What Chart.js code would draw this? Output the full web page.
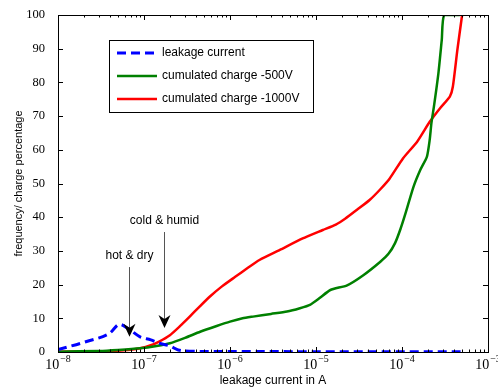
<!DOCTYPE html>
<html>
<head>
<meta charset="utf-8">
<script src="https://cdn.jsdelivr.net/npm/chart.js@4/dist/chart.umd.min.js"></script>
<style>
  body { margin: 0; background: #fff; }
  canvas { display: block; }
</style>
</head>
<body>
<canvas id="grafico" width="498" height="388"></canvas>
<script>
// leakage current distribution (dashed blue)
const leakX = [1e-8, 2.2e-8, 4e-8, 5.2e-8, 6.5e-8, 9e-8, 1.2e-7, 1.5e-7, 2e-7, 2.5e-7, 4e-7, 1e-6, 1e-5, 1e-4, 4.8e-4];
const leakY = [0.7, 3.2, 5.6, 8.2, 7.0, 4.5, 3.6, 2.6, 1.8, 0.6, 0.2, 0.15, 0.1, 0.1, 0.1];

// cumulated charge -500V (green)
const charge500X = [1e-8, 3e-8, 5e-8, 9e-8, 1.4e-7, 2e-7, 3e-7, 4.5e-7, 7e-7, 1e-6, 1.4e-6, 1.85e-6, 3e-6, 4.6e-6, 6.5e-6, 8.5e-6, 1.1e-5, 1.47e-5, 2.3e-5, 3.55e-5, 5.6e-5, 7e-5, 8.3e-5, 9.6e-5, 1.1e-4, 1.36e-4, 1.63e-4, 1.95e-4, 2.1e-4, 2.2e-4, 2.35e-4, 2.65e-4, 2.9e-4, 3.1e-4, 4.7e-4];
const charge500Y = [0.1, 0.3, 0.6, 1.1, 1.8, 2.6, 4.2, 6.0, 7.7, 9.0, 10.0, 10.5, 11.3, 12.0, 13.0, 14.0, 16.0, 18.4, 19.8, 22.8, 26.8, 29.2, 32.3, 36.5, 41.2, 49, 54, 58, 63, 68, 72.8, 82.7, 92.6, 100, 100];

// cumulated charge -1000V (red)
const charge1000X = [1e-8, 3e-8, 5e-8, 7e-8, 9e-8, 1.2e-7, 1.5e-7, 2e-7, 2.6e-7, 3.4e-7, 4.4e-7, 5.8e-7, 8e-7, 1.15e-6, 1.6e-6, 2.2e-6, 3.8e-6, 7e-6, 1.2e-5, 1.7e-5, 2.2e-5, 3e-5, 4.2e-5, 5.6e-5, 7.2e-5, 1.03e-4, 1.5e-4, 2.1e-4, 2.8e-4, 3.6e-4, 3.9e-4, 4.4e-4, 5e-4];
const charge1000Y = [0.1, 0.2, 0.4, 0.7, 1.1, 2.0, 3.1, 5.0, 7.6, 10.5, 13.4, 16.4, 19.4, 22.3, 24.9, 27.3, 30.3, 33.7, 36.2, 37.8, 39.6, 42.2, 45.1, 48.3, 51.5, 57.5, 62.4, 68.3, 72.5, 75.8, 78.7, 89.6, 100];

const seriesLabels = ['leakage current', 'cumulated charge -500V', 'cumulated charge -1000V'];

const xTicks = [1e-8, 1e-7, 1e-6, 1e-5, 1e-4, 1e-3];
const yTicks = [0, 10, 20, 30, 40, 50, 60, 70, 80, 90, 100];

// annotations: text, arrow x, text y, arrow start y, arrow tip y
const noteTexts = ['hot & dry', 'cold & humid'];
const noteX = [6.65e-8, 1.7e-7];
const noteTextY = [28.6, 39.0];
const noteFromY = [25.2, 35.6];
const noteToY = [4.5, 7.1];

const SERIF = '"Liberation Serif", "DejaVu Serif", serif';
const SANS = '"Liberation Sans", Arial, sans-serif';

function toPoints(xs, ys) {
    return xs.map((x, i) => ({ x: x, y: ys[i] }));
}

// moldura, marcas para dentro e rótulos 10^n
const frameTicks = {
    id: 'frameTicks',
    afterDatasetsDraw(chart) {
        const { ctx, chartArea: a, scales: { x, y } } = chart;
        ctx.save();
        ctx.strokeStyle = '#000';
        ctx.lineWidth = 1;
        ctx.beginPath();
        for (let d = 0; d < xTicks.length; d++) {
            for (let m = 1; m <= 9; m++) {
                const v = xTicks[d] * m;
                if (v > xTicks[xTicks.length - 1] * 1.0001) break;
                const px = Math.round(x.getPixelForValue(v)) + 0.5;
                const len = m === 1 ? 5 : 2.5;
                ctx.moveTo(px, a.bottom); ctx.lineTo(px, a.bottom - len);
                ctx.moveTo(px, a.top); ctx.lineTo(px, a.top + len);
            }
        }
        for (const v of yTicks) {
            const py = Math.round(y.getPixelForValue(v)) + 0.5;
            ctx.moveTo(a.left, py); ctx.lineTo(a.left + 5, py);
            ctx.moveTo(a.right, py); ctx.lineTo(a.right - 5, py);
        }
        ctx.stroke();
        ctx.strokeRect(Math.round(a.left) + 0.5, Math.round(a.top) + 0.5, Math.round(a.width), Math.round(a.height));

        // rótulos do eixo x com expoente
        ctx.fillStyle = '#000';
        ctx.textBaseline = 'middle';
        ctx.textAlign = 'left';
        for (const v of xTicks) {
            const px = x.getPixelForValue(v);
            const expo = '−' + Math.abs(Math.round(Math.log10(v)));
            ctx.font = '14px ' + SERIF;
            const wb = ctx.measureText('10').width;
            ctx.font = '10px ' + SERIF;
            const we = ctx.measureText(expo).width;
            const x0 = px - (wb + we + 1) / 2;
            ctx.font = '14px ' + SERIF;
            ctx.fillText('10', x0, a.bottom + 13);
            ctx.font = '10px ' + SERIF;
            ctx.fillText(expo, x0 + wb + 1, a.bottom + 7);
        }
        ctx.restore();
    }
};

// setas com texto
const arrowNotes = {
    id: 'arrowNotes',
    afterDatasetsDraw(chart) {
        const { ctx, scales: { x, y } } = chart;
        ctx.save();
        ctx.font = '12px ' + SANS;
        ctx.textAlign = 'center';
        ctx.textBaseline = 'middle';
        for (let i = 0; i < noteTexts.length; i++) {
            const px = Math.round(x.getPixelForValue(noteX[i])) + 0.5;
            const ty = y.getPixelForValue(noteTextY[i]);
            const y0 = y.getPixelForValue(noteFromY[i]);
            const y1 = y.getPixelForValue(noteToY[i]);
            ctx.fillStyle = '#000';
            ctx.fillText(noteTexts[i], px, ty);
            ctx.strokeStyle = '#555';
            ctx.lineWidth = 1;
            ctx.beginPath();
            ctx.moveTo(px, y0);
            ctx.lineTo(px, y1 - 8);
            ctx.stroke();
            ctx.fillStyle = '#000';
            ctx.beginPath();
            ctx.moveTo(px, y1);
            ctx.lineTo(px - 6, y1 - 13);
            ctx.lineTo(px, y1 - 9);
            ctx.lineTo(px + 6, y1 - 13);
            ctx.closePath();
            ctx.fill();
        }
        ctx.restore();
    }
};

// legenda dentro do gráfico com moldura
const boxLegend = {
    id: 'boxLegend',
    afterDatasetsDraw(chart) {
        const { ctx, chartArea: a } = chart;
        const left = a.left + 51, top = a.top + 25, w = 204, h = 72;
        ctx.save();
        ctx.fillStyle = '#fff';
        ctx.fillRect(left, top, w, h);
        ctx.strokeStyle = '#000';
        ctx.lineWidth = 1;
        ctx.strokeRect(left + 0.5, top + 0.5, w, h);
        ctx.font = '12px ' + SANS;
        ctx.textBaseline = 'middle';
        chart.data.datasets.forEach((ds, i) => {
            const cy = top + 13 + i * 23;
            ctx.strokeStyle = ds.borderColor;
            ctx.lineWidth = ds.borderWidth;
            ctx.setLineDash(ds.borderDash || []);
            ctx.beginPath();
            ctx.moveTo(left + 8, cy);
            ctx.lineTo(left + 48, cy);
            ctx.stroke();
            ctx.setLineDash([]);
            ctx.fillStyle = '#000';
            ctx.fillText(ds.label, left + 53, cy);
        });
        ctx.restore();
    }
};

new Chart(document.getElementById('grafico'), {
    type: 'line',
    data: {
        datasets: [
            {
                label: seriesLabels[0],
                data: toPoints(leakX, leakY),
                borderColor: '#0000ff',
                borderWidth: 3,
                borderDash: [9, 5],
                cubicInterpolationMode: 'monotone',
                pointRadius: 0
            },
            {
                label: seriesLabels[1],
                data: toPoints(charge500X, charge500Y),
                borderColor: '#008000',
                borderWidth: 2.5,
                tension: 0.2,
                pointRadius: 0
            },
            {
                label: seriesLabels[2],
                data: toPoints(charge1000X, charge1000Y),
                borderColor: '#ff0000',
                borderWidth: 2.5,
                tension: 0.2,
                pointRadius: 0
            }
        ]
    },
    options: {
        responsive: false,
        animation: false,
        layout: { padding: { left: 0, right: 10, top: 15, bottom: 0 } },
        plugins: {
            legend: { display: false },
            tooltip: { enabled: false }
        },
        scales: {
            x: {
                type: 'logarithmic',
                min: 1e-8,
                max: 1e-3,
                grid: { display: false },
                border: { display: false },
                afterBuildTicks: (scale) => { scale.ticks = xTicks.map(v => ({ value: v })); },
                afterFit: (scale) => { scale.height = 36; },
                ticks: { display: false },
                title: {
                    display: true,
                    text: 'leakage current in A',
                    color: '#000',
                    padding: { top: 0, bottom: 0 },
                    font: { family: SANS, size: 12 }
                }
            },
            y: {
                min: 0,
                max: 100,
                grid: { display: false },
                border: { display: false },
                afterBuildTicks: (scale) => { scale.ticks = yTicks.map(v => ({ value: v })); },
                afterFit: (scale) => { scale.width = 58; },
                ticks: {
                    padding: 5,
                    color: '#000',
                    font: { family: SERIF, size: 12.5 }
                },
                title: {
                    display: true,
                    text: 'frequency/ charge percentage',
                    color: '#000',
                    padding: { top: 12, bottom: 0 },
                    font: { family: SANS, size: 11 }
                }
            }
        }
    },
    plugins: [frameTicks, arrowNotes, boxLegend]
});
</script>
</body>
</html>
